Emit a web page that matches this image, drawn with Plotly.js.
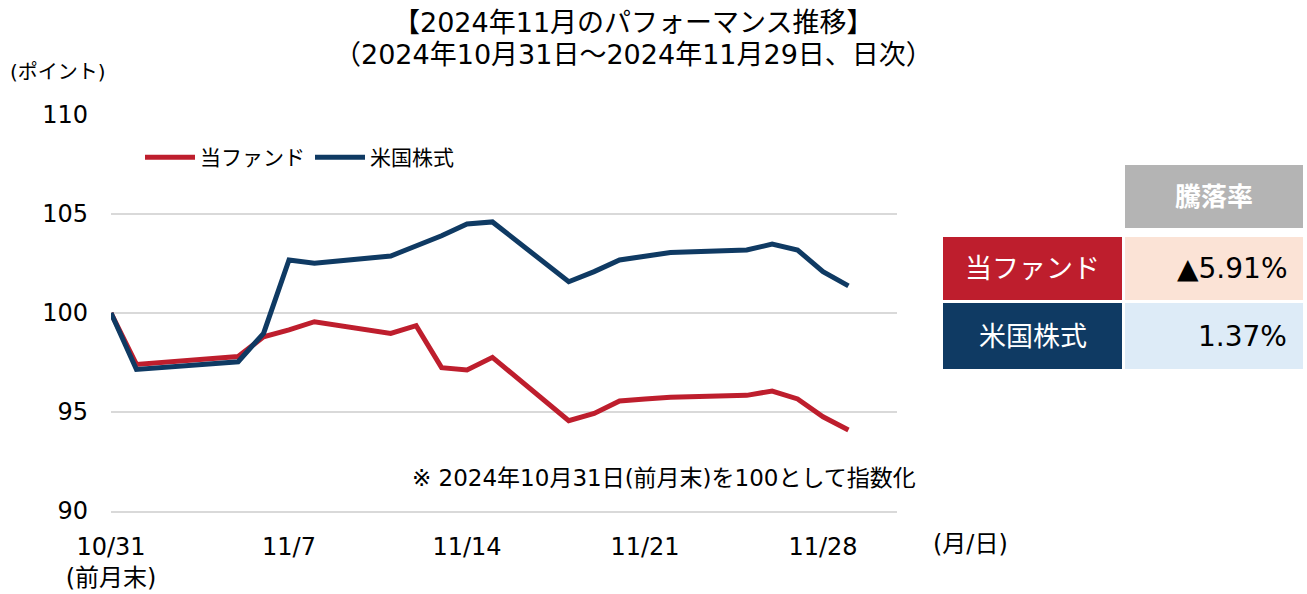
<!DOCTYPE html>
<html>
<head>
<meta charset="utf-8">
<script src="https://cdn.plot.ly/plotly-3.0.1.min.js"></script>
<style>
  html, body { margin: 0; padding: 0; background: #ffffff; }
  #chart { width: 1307px; height: 594px; }
</style>
</head>
<body>
<div id="chart"></div>
<script>
// ---- data ----
const dates = ['2024-10-31','2024-11-01','2024-11-05','2024-11-06','2024-11-07','2024-11-08',
  '2024-11-11','2024-11-12','2024-11-13','2024-11-14','2024-11-15','2024-11-18','2024-11-19',
  '2024-11-20','2024-11-21','2024-11-22','2024-11-25','2024-11-26','2024-11-27','2024-11-28','2024-11-29'];
const fundValues = [100, 97.40, 97.80, 98.80, 99.15, 99.56, 98.97, 99.36, 97.24, 97.12, 97.76,
  94.56, 94.93, 95.56, 95.66, 95.74, 95.84, 96.06, 95.66, 94.76, 94.09];
const usValues = [100, 97.15, 97.54, 98.97, 102.68, 102.51, 102.88, 103.40, 103.90, 104.50, 104.60,
  101.58, 102.09, 102.68, 102.90, 103.06, 103.18, 103.48, 103.18, 102.09, 101.37];
const seriesNames = ['当ファンド', '米国株式'];
const xTickVals = ['2024-10-31','2024-11-07','2024-11-14','2024-11-21','2024-11-28'];
const xTickText = ['10/31<br>(前月末)','11/7','11/14','11/21','11/28'];
const yTickVals = [90, 95, 100, 105, 110];
const titleLines = ['【2024年11月のパフォーマンス推移】', '（2024年10月31日～2024年11月29日、日次）'];
const tableHeader = '騰落率';
const tableNames = ['当ファンド', '米国株式'];
const tableValues = ['▲5.91%', '1.37%'];

// ---- style ----
const FONT = 'DejaVu Sans, Noto Sans CJK JP, sans-serif';
const RED = '#BE1E2D';
const NAVY = '#0F3A63';
const W = 1307, H = 594;
const M = {l: 111, r: 410, t: 115, b: 83};
const PW = W - M.l - M.r, PH = H - M.t - M.b;
const px = x => (x - M.l) / PW;
const py = y => (H - M.b - y) / PH;

const traces = [
  {x: dates, y: fundValues, name: seriesNames[0], type: 'scatter', mode: 'lines',
   line: {color: RED, width: 5}},
  {x: dates, y: usValues, name: seriesNames[1], type: 'scatter', mode: 'lines',
   line: {color: NAVY, width: 5}}
];

const shapes = [];
const annotations = [];

// title
const titleY = [22, 55];
for (let i = 0; i < titleLines.length; i++) {
  annotations.push({xref: 'paper', yref: 'paper', x: px(633), y: py(titleY[i]), text: titleLines[i],
    showarrow: false, xanchor: 'center', yanchor: 'middle',
    font: {family: FONT, size: 27, color: '#000000'}});
}

// table
const colX = [[943, 1122], [1125, 1303]];
const rowY = [[165, 228], [237, 300], [303, 369]];
const nameFill = [RED, NAVY];
const valFill = ['#FBE3D6', '#DDEBF7'];
shapes.push({type: 'rect', xref: 'paper', yref: 'paper', x0: px(colX[1][0]), x1: px(colX[1][1]),
  y0: py(rowY[0][1]), y1: py(rowY[0][0]), fillcolor: '#B4B4B4', line: {width: 0}, layer: 'below'});
annotations.push({xref: 'paper', yref: 'paper', x: px((colX[1][0] + colX[1][1]) / 2),
  y: py((rowY[0][0] + rowY[0][1]) / 2), text: '<b>' + tableHeader + '</b>', showarrow: false,
  xanchor: 'center', yanchor: 'middle', font: {family: FONT, size: 26, color: '#FFFFFF'}});
for (let i = 0; i < tableNames.length; i++) {
  const r = rowY[i + 1];
  shapes.push({type: 'rect', xref: 'paper', yref: 'paper', x0: px(colX[0][0]), x1: px(colX[0][1]),
    y0: py(r[1]), y1: py(r[0]), fillcolor: nameFill[i], line: {width: 0}, layer: 'below'});
  shapes.push({type: 'rect', xref: 'paper', yref: 'paper', x0: px(colX[1][0]), x1: px(colX[1][1]),
    y0: py(r[1]), y1: py(r[0]), fillcolor: valFill[i], line: {width: 0}, layer: 'below'});
  annotations.push({xref: 'paper', yref: 'paper', x: px((colX[0][0] + colX[0][1]) / 2),
    y: py((r[0] + r[1]) / 2), text: tableNames[i], showarrow: false, xanchor: 'center', yanchor: 'middle',
    font: {family: FONT, size: 27, color: '#FFFFFF'}});
  annotations.push({xref: 'paper', yref: 'paper', x: px(1289), y: py((r[0] + r[1]) / 2),
    text: tableValues[i], showarrow: false, xanchor: 'right', yanchor: 'middle',
    font: {family: FONT, size: 28, color: '#000000'}});
}

// other texts
annotations.push({xref: 'paper', yref: 'paper', x: px(8), y: py(72), text: '(ポイント)', showarrow: false,
  xanchor: 'left', yanchor: 'middle', font: {family: FONT, size: 20, color: '#000000'}});
annotations.push({xref: 'paper', yref: 'paper', x: px(931), y: py(544), text: '(月/日)', showarrow: false,
  xanchor: 'left', yanchor: 'middle', font: {family: FONT, size: 24, color: '#000000'}});
annotations.push({xref: 'paper', yref: 'paper', x: px(410), y: py(478),
  text: '※ 2024年10月31日(前月末)を100として指数化', showarrow: false,
  xanchor: 'left', yanchor: 'middle', font: {family: FONT, size: 23, color: '#000000'}});

const layout = {
  width: W, height: H,
  margin: M,
  paper_bgcolor: '#FFFFFF', plot_bgcolor: '#FFFFFF',
  font: {family: FONT, size: 22, color: '#000000'},
  xaxis: {
    type: 'date', range: ['2024-10-31', '2024-11-30 21:50'],
    tickmode: 'array', tickvals: xTickVals, ticktext: xTickText,
    showgrid: false, zeroline: false, showline: true, linecolor: '#D9D9D9', linewidth: 2,
    ticks: '', ticklabelstandoff: 13,
    tickfont: {family: FONT, size: 24, color: '#000000'}
  },
  yaxis: {
    range: [90, 110], tickmode: 'array', tickvals: yTickVals,
    showgrid: true, gridcolor: '#D9D9D9', gridwidth: 2, zeroline: false, showline: false,
    ticks: '', ticklabelstandoff: 22,
    tickfont: {family: FONT, size: 24, color: '#000000'}
  },
  showlegend: true,
  legend: {
    orientation: 'h', x: px(140), y: py(137), xanchor: 'left', yanchor: 'top',
    bgcolor: 'rgba(0,0,0,0)', font: {family: FONT, size: 21, color: '#000000'},
    itemwidth: 50, traceorder: 'normal'
  },
  shapes: shapes,
  annotations: annotations
};

Plotly.newPlot('chart', traces, layout, {displayModeBar: false, staticPlot: true});
</script>
</body>
</html>
